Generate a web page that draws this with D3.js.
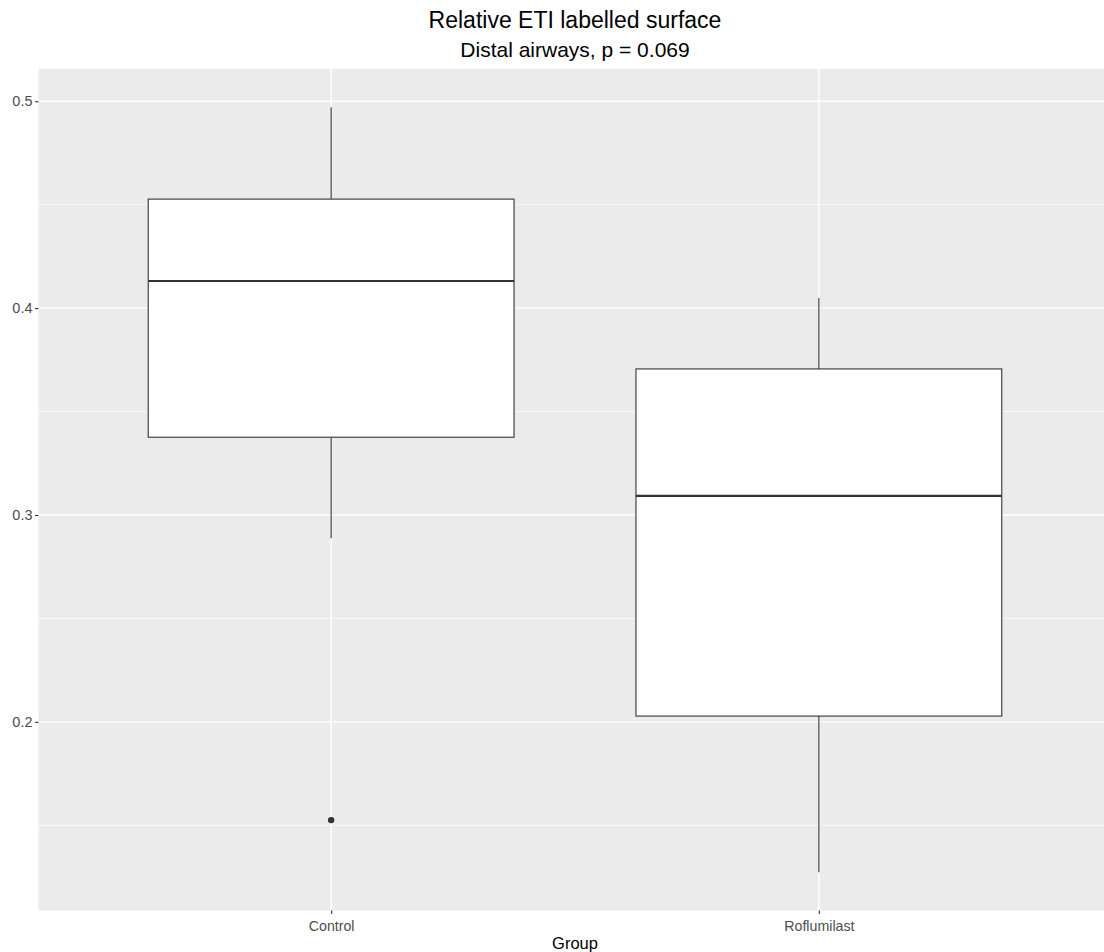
<!DOCTYPE html>
<html>
<head>
<meta charset="utf-8">
<script src="https://cdn.jsdelivr.net/npm/d3@7"></script>
<style>
  html, body { margin: 0; padding: 0; background: #fff; }
  svg { display: block; font-family: "Liberation Sans", Arial, sans-serif; }
</style>
</head>
<body>
<svg id="chart" width="1104" height="952"></svg>
<script>
// Groups and box-plot statistics
const groups = ["Control", "Roflumilast"];
const whiskerLow  = [0.2888, 0.1273];
const q1          = [0.3376, 0.2028];
const median      = [0.4131, 0.3092];
const q3          = [0.4527, 0.3706];
const whiskerHigh = [0.4971, 0.4049];
const outliers = [{ group: "Control", value: 0.1525 }];

const yTicks = [0.2, 0.3, 0.4, 0.5];
const yMinorTicks = [0.15, 0.25, 0.35, 0.45];

const title = "Relative ETI labelled surface";
const subtitle = "Distal airways, p = 0.069";
const xTitle = "Group";

const svg = d3.select("#chart");
const panel = { left: 38.5, right: 1111.5, top: 69, bottom: 910.5 };

const dataMin = d3.min([...whiskerLow, ...outliers.map(d => d.value)]);
const dataMax = d3.max(whiskerHigh);
const pad = (dataMax - dataMin) * 0.05;

const y = d3.scaleLinear()
  .domain([dataMin - pad, dataMax + pad])
  .range([panel.bottom, panel.top]);

// Discrete axis with 0.6 units of expansion on each side
const unit = (panel.right - panel.left) / (groups.length - 1 + 1.2);
const x = d3.scalePoint()
  .domain(groups)
  .range([panel.left + 0.6 * unit, panel.right - 0.6 * unit]);
const boxW = 0.75 * unit;

// Panel background
svg.append("rect")
  .attr("x", panel.left).attr("y", panel.top)
  .attr("width", panel.right - panel.left)
  .attr("height", panel.bottom - panel.top)
  .attr("fill", "#EBEBEB");

const grid = svg.append("g");
grid.selectAll(".minor").data(yMinorTicks).join("line")
  .attr("x1", panel.left).attr("x2", panel.right)
  .attr("y1", d => y(d)).attr("y2", d => y(d))
  .attr("stroke", "#fff").attr("stroke-width", 0.7);
grid.selectAll(".major").data(yTicks).join("line")
  .attr("x1", panel.left).attr("x2", panel.right)
  .attr("y1", d => y(d)).attr("y2", d => y(d))
  .attr("stroke", "#fff").attr("stroke-width", 1.4);
grid.selectAll(".xmajor").data(groups).join("line")
  .attr("x1", d => x(d)).attr("x2", d => x(d))
  .attr("y1", panel.top).attr("y2", panel.bottom)
  .attr("stroke", "#fff").attr("stroke-width", 1.4);

// Boxes
const stats = groups.map((g, i) => ({
  g, lo: whiskerLow[i], q1: q1[i], med: median[i], q3: q3[i], hi: whiskerHigh[i]
}));
const boxes = svg.append("g").selectAll("g").data(stats).join("g");
boxes.append("line")
  .attr("x1", d => x(d.g)).attr("x2", d => x(d.g))
  .attr("y1", d => y(d.hi)).attr("y2", d => y(d.q3))
  .attr("stroke", "#333").attr("stroke-width", 1.1);
boxes.append("line")
  .attr("x1", d => x(d.g)).attr("x2", d => x(d.g))
  .attr("y1", d => y(d.q1)).attr("y2", d => y(d.lo))
  .attr("stroke", "#333").attr("stroke-width", 1.1);
boxes.append("rect")
  .attr("x", d => x(d.g) - boxW / 2).attr("width", boxW)
  .attr("y", d => y(d.q3)).attr("height", d => y(d.q1) - y(d.q3))
  .attr("fill", "#fff").attr("stroke", "#333").attr("stroke-width", 1.1);
boxes.append("line")
  .attr("x1", d => x(d.g) - boxW / 2).attr("x2", d => x(d.g) + boxW / 2)
  .attr("y1", d => y(d.med)).attr("y2", d => y(d.med))
  .attr("stroke", "#333").attr("stroke-width", 2.2);

svg.append("g").selectAll("circle").data(outliers).join("circle")
  .attr("cx", d => x(d.group)).attr("cy", d => y(d.value))
  .attr("r", 3.2).attr("fill", "#333");

// Axes
const yAxis = svg.append("g")
  .attr("transform", `translate(${panel.left},0)`)
  .call(d3.axisLeft(y).tickValues(yTicks).tickSize(3.5).tickPadding(2.5).tickFormat(d3.format(".1f")));
yAxis.select(".domain").remove();
yAxis.selectAll("line").attr("stroke", "#333").attr("stroke-width", 1.1);
yAxis.selectAll("text").attr("fill", "#4D4D4D").attr("font-size", 14.5)
  .attr("font-family", "Liberation Sans, Arial, sans-serif");

const xAxis = svg.append("g")
  .attr("transform", `translate(0,${panel.bottom})`)
  .call(d3.axisBottom(x).tickSize(3.5).tickPadding(7));
xAxis.select(".domain").remove();
xAxis.selectAll("line").attr("stroke", "#333").attr("stroke-width", 1.1);
xAxis.selectAll("text").attr("fill", "#4D4D4D").attr("font-size", 14.2)
  .attr("font-family", "Liberation Sans, Arial, sans-serif");

const cx = (panel.left + panel.right) / 2;
svg.append("text").attr("x", cx).attr("y", 949)
  .attr("text-anchor", "middle").attr("font-size", 16.5).attr("fill", "#000")
  .text(xTitle);

svg.append("text").attr("x", cx).attr("y", 28)
  .attr("text-anchor", "middle").attr("font-size", 23).attr("fill", "#000")
  .text(title);
svg.append("text").attr("x", cx).attr("y", 57)
  .attr("text-anchor", "middle").attr("font-size", 21).attr("fill", "#000")
  .text(subtitle);
</script>
</body>
</html>
